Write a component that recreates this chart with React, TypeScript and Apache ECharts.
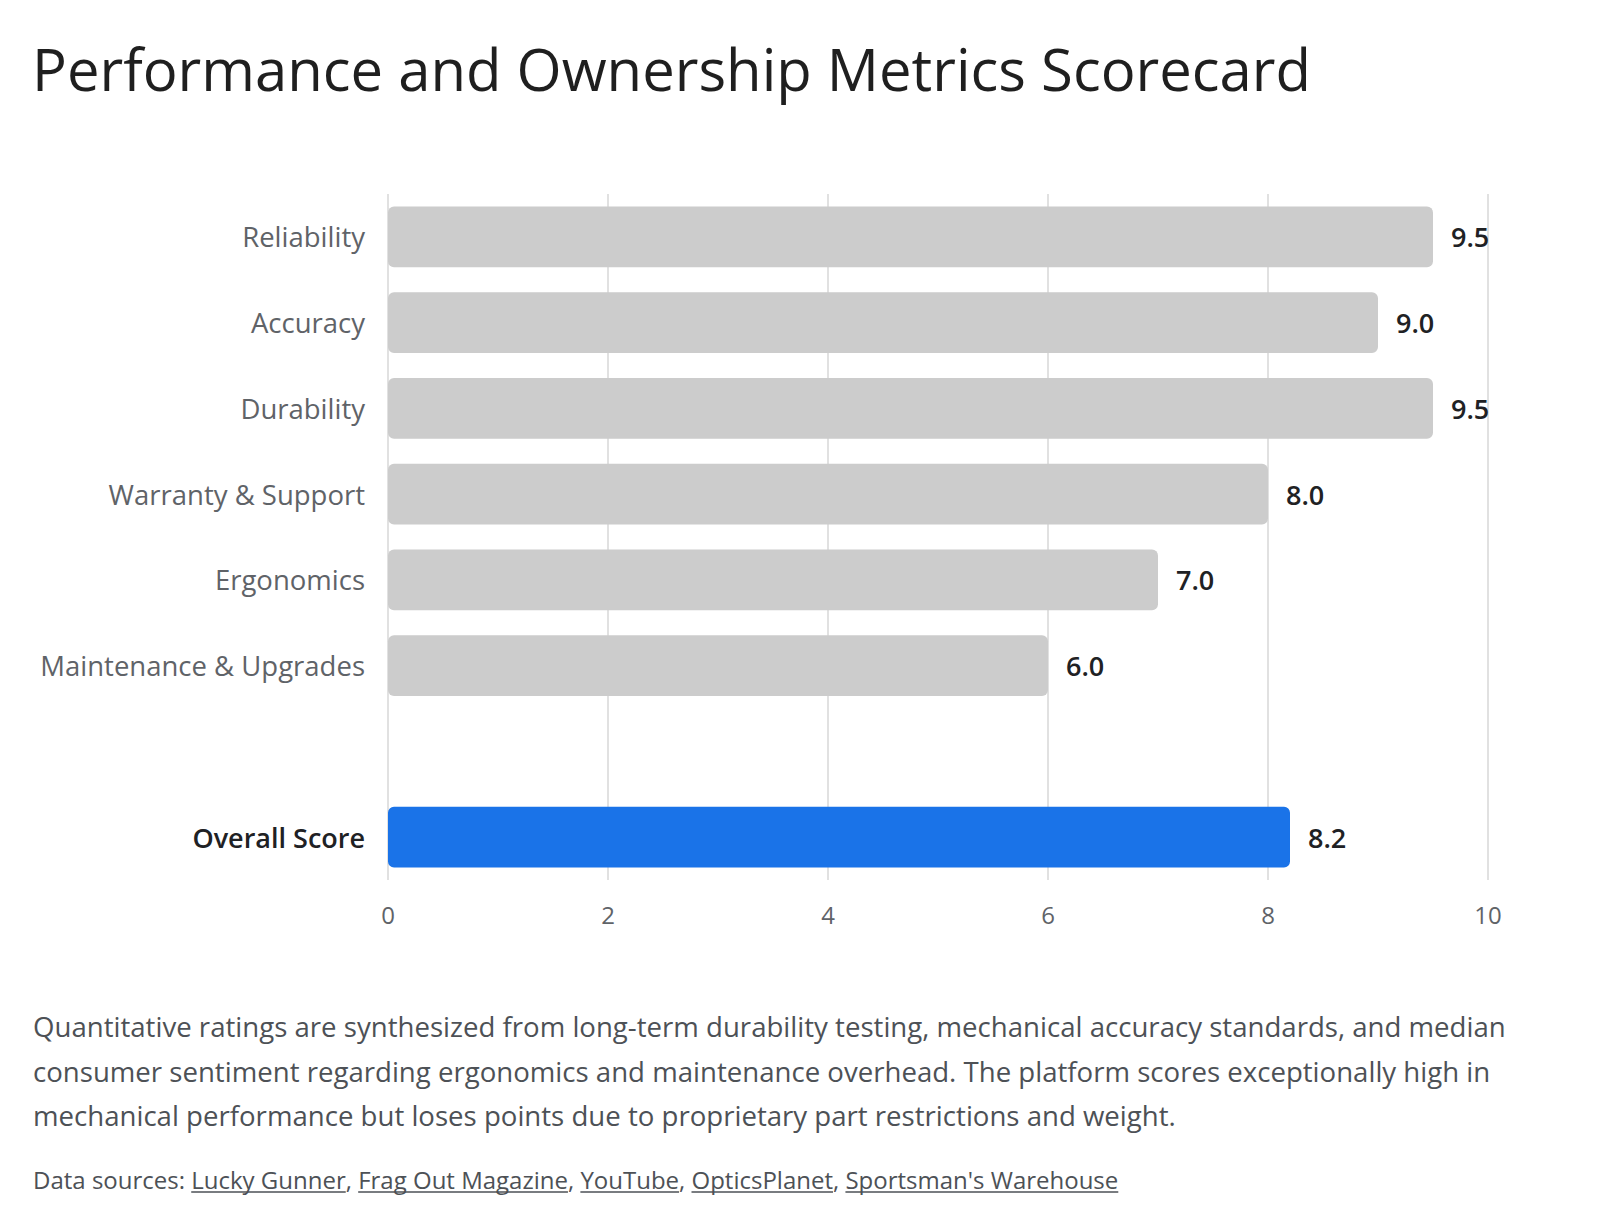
import React, { useEffect, useRef } from "react";
import * as echarts from "echarts";

const TITLE = "Performance and Ownership Metrics Scorecard";
const categories = [
  "Reliability",
  "Accuracy",
  "Durability",
  "Warranty & Support",
  "Ergonomics",
  "Maintenance & Upgrades",
  "",
  "Overall Score",
];
const scores: (number | null)[] = [9.5, 9.0, 9.5, 8.0, 7.0, 6.0, null, 8.2];
const highlightCategory = "Overall Score";
const xTicks = [0, 2, 4, 6, 8, 10];
const noteLines = [
  "Quantitative ratings are synthesized from long-term durability testing, mechanical accuracy standards, and median",
  "consumer sentiment regarding ergonomics and maintenance overhead. The platform scores exceptionally high in",
  "mechanical performance but loses points due to proprietary part restrictions and weight.",
];
const sourcesLabel = "Data sources: ";
const sources = ["Lucky Gunner", "Frag Out Magazine", "YouTube", "OpticsPlanet", "Sportsman's Warehouse"];

const FONT = "'Open Sans', Roboto, sans-serif";
const GRAY = "#5f6368";
const DARK = "#1f1f1f";

function measure(text: string, font: string): number {
  const c = document.createElement("canvas");
  const ctx = c.getContext("2d")!;
  ctx.font = font;
  return ctx.measureText(text).width;
}

export default function App() {
  const ref = useRef<HTMLDivElement>(null);
  useEffect(() => {
    if (!ref.current) return;
    const chart = echarts.init(ref.current, undefined, { renderer: "svg" });

    const graphics: any[] = [];
    graphics.push({
      type: "text",
      x: 32,
      y: 68,
      style: { text: TITLE, font: `400 58px ${FONT}`, fill: DARK, textVerticalAlign: "middle" },
    });
    noteLines.forEach((line, i) => {
      graphics.push({
        type: "text",
        x: 33,
        y: 1026 + i * 44.5,
        style: { text: line, font: `400 27.6px ${FONT}`, fill: "#4d5156", textVerticalAlign: "middle" },
      });
    });
    const srcFont = `400 24px ${FONT}`;
    let sx = 33;
    const sy = 1179;
    graphics.push({
      type: "text",
      x: sx,
      y: sy,
      style: { text: sourcesLabel, font: srcFont, fill: "#4d5156", textVerticalAlign: "middle" },
    });
    sx += measure(sourcesLabel, srcFont);
    sources.forEach((s, i) => {
      const w = measure(s, srcFont);
      graphics.push({
        type: "text",
        x: sx,
        y: sy,
        style: { text: s, font: srcFont, fill: "#4d5156", textVerticalAlign: "middle" },
      });
      graphics.push({
        type: "line",
        shape: { x1: sx, y1: sy + 13, x2: sx + w, y2: sy + 13 },
        style: { stroke: "#4d5156", lineWidth: 1.5 },
      });
      sx += w;
      if (i < sources.length - 1) {
        const sep = ", ";
        graphics.push({
          type: "text",
          x: sx,
          y: sy,
          style: { text: sep, font: srcFont, fill: "#4d5156", textVerticalAlign: "middle" },
        });
        sx += measure(sep, srcFont);
      }
    });

    const option: any = {
      animation: false,
      backgroundColor: "#ffffff",
      grid: { left: 388, width: 1100, top: 194, height: 686, containLabel: false },
      xAxis: {
        type: "value",
        min: xTicks[0],
        max: xTicks[xTicks.length - 1],
        interval: 2,
        axisLine: { show: false },
        axisTick: { show: false },
        axisLabel: { color: GRAY, fontSize: 24, fontFamily: FONT, margin: 22 },
        splitLine: { show: true, lineStyle: { color: "#e1e1e1", width: 2 } },
      },
      yAxis: {
        type: "category",
        data: categories,
        inverse: true,
        axisLine: { show: false },
        axisTick: { show: false },
        axisLabel: {
          margin: 23,
          fontSize: 27.5,
          fontFamily: FONT,
          color: GRAY,
          formatter: (v: string) => (v === highlightCategory ? `{b|${v}}` : v),
          rich: {
            b: { fontSize: 27, fontFamily: FONT, fontWeight: 600, color: "#202124" },
          },
        },
      },
      series: [
        {
          type: "bar",
          barWidth: "71%",
          data: scores.map((v, i) =>
            v === null
              ? null
              : {
                  value: v,
                  itemStyle: {
                    color: categories[i] === highlightCategory ? "#1a73e8" : "#cccccc",
                    borderRadius: 6,
                  },
                }
          ),
          label: {
            show: true,
            position: "right",
            distance: 18,
            fontSize: 27,
            fontFamily: FONT,
            fontWeight: 600,
            color: "#202124",
            formatter: (p: any) => Number(p.value).toFixed(1),
          },
        },
      ],
      graphic: graphics,
    };
    chart.setOption(option);
    return () => chart.dispose();
  }, []);
  return (
    <div
      ref={ref}
      style={{ position: "fixed", left: 0, top: 0, width: 1600, height: 1228, background: "#fff" }}
    />
  );
}
